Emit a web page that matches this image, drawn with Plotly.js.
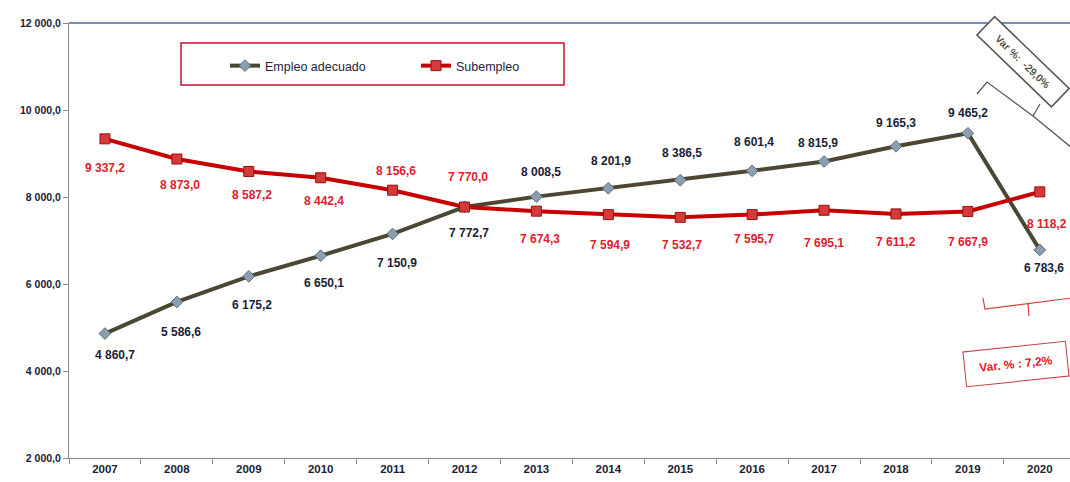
<!DOCTYPE html>
<html>
<head>
<meta charset="utf-8">
<script src="https://cdn.plot.ly/plotly-3.0.1.min.js"></script>
<style>
  html, body { margin: 0; padding: 0; background: #ffffff; }
  #chart { width: 1070px; height: 482px; }
</style>
</head>
<body>
<div id="chart"></div>
<script>
// ---- data ----
const years = ['2007','2008','2009','2010','2011','2012','2013','2014','2015','2016','2017','2018','2019','2020'];
const empleoAdecuado = [4860.7, 5586.6, 6175.2, 6650.1, 7150.9, 7772.7, 8008.5, 8201.9, 8386.5, 8601.4, 8815.9, 9165.3, 9465.2, 6783.6];
const subempleo = [9337.2, 8873.0, 8587.2, 8442.4, 8156.6, 7770.0, 7674.3, 7594.9, 7532.7, 7595.7, 7695.1, 7611.2, 7667.9, 8118.2];
const seriesNames = ['Empleo adecuado', 'Subempleo'];
const varAdecuado = 'Var %:  -29,0%';
const varSubempleo = 'Var. % : 7,2%';

// ---- label offsets (px, positive = below the point) ----
const offAdecuado = [21, 30, 29, 27, 29, 26, -25, -27, -27, -29, -19, -23, -20, 18];
const offSub = [29, 26, 24, 23, -19, -30, 28, 30, 28, 24, 33, 28, 31, 32];
const xoffAdecuado = [10, 4, 3, 3, 4, 4, 5, 3, 2, 2, -6, 0, 0, 4];
const xoffSub = [0, 3, 3, 3, 3, 3, 4, 2, 2, 2, 0, 0, 0, 7];

function fmt(v) {
  const parts = v.toFixed(1).split('.');
  const intPart = parts[0].replace(/\B(?=(\d{3})+(?!\d))/g, ' ');
  return intPart + ',' + parts[1];
}

// plot area geometry for decorative shapes
const L = 69, R = 1070, T = 23, B = 458;
function px(x) { return (x - L) / (R - L); }
function py(y) { return (B - y) / (B - T); }

const labelFont = "'Liberation Sans Narrow', 'Liberation Sans', Arial, sans-serif";

const traces = [
  {
    x: years, y: empleoAdecuado, name: seriesNames[0], type: 'scatter', mode: 'lines+markers',
    line: { color: '#4B4733', width: 4 },
    marker: { symbol: 'diamond', size: 9, color: '#8A9FB0', line: { color: '#5B6B78', width: 1 } }
  },
  {
    x: years, y: subempleo, name: seriesNames[1], type: 'scatter', mode: 'lines+markers',
    line: { color: '#C80000', width: 4 },
    marker: { symbol: 'square', size: 10, color: '#D43A3A', line: { color: '#9A0F0F', width: 1 } }
  }
];

const annotations = [];
years.forEach((yr, i) => {
  // category axis: annotation x given as the category's serial index
  annotations.push({
    x: i, y: empleoAdecuado[i], xref: 'x', yref: 'y', showarrow: false,
    text: '<b>' + fmt(empleoAdecuado[i]) + '</b>',
    yshift: -offAdecuado[i], xshift: xoffAdecuado[i],
    font: { family: labelFont, size: 12, color: '#1A2236' }
  });
  annotations.push({
    x: i, y: subempleo[i], xref: 'x', yref: 'y', showarrow: false,
    text: '<b>' + fmt(subempleo[i]) + '</b>',
    yshift: -offSub[i], xshift: xoffSub[i],
    font: { family: labelFont, size: 12, color: '#E0202E' }
  });
});

annotations.push({
  xref: 'paper', yref: 'paper', x: px(1023), y: py(61), xanchor: 'center', yanchor: 'middle',
  showarrow: false, text: '<b>' + varAdecuado + '</b>', textangle: 44,
  width: 96, height: 18, borderpad: 3, bordercolor: '#55534A', borderwidth: 1.5, bgcolor: '#ffffff',
  font: { family: labelFont, size: 10.5, color: '#55534A' }
});
annotations.push({
  xref: 'paper', yref: 'paper', x: px(1016), y: py(364), xanchor: 'center', yanchor: 'middle',
  showarrow: false, text: '<b>' + varSubempleo + '</b>', textangle: -6,
  width: 96, height: 28, borderpad: 3, bordercolor: '#C83A3A', borderwidth: 1, bgcolor: '#ffffff',
  font: { family: labelFont, size: 12, color: '#E0202E' }
});

const shapes = [
  // top border of plot area
  { type: 'line', xref: 'paper', yref: 'paper', x0: 0, x1: 1, y0: 1, y1: 1, line: { color: '#4A6A9E', width: 1.5 } },
  // legend box
  { type: 'rect', xref: 'paper', yref: 'paper', x0: px(181), x1: px(564), y0: py(43), y1: py(85),
    line: { color: '#C8102E', width: 1.5 }, fillcolor: 'rgba(0,0,0,0)' },
  // dark bracket
  { type: 'path', xref: 'paper', yref: 'paper',
    path: 'M ' + px(977) + ' ' + py(94) + ' L ' + px(987) + ' ' + py(82) + ' L ' + px(1033) + ' ' + py(116) +
          ' L ' + px(1072) + ' ' + py(148) + ' M ' + px(1033) + ' ' + py(116) + ' L ' + px(1040) + ' ' + py(104),
    line: { color: '#55534A', width: 1.2 } },
  // red bracket
  { type: 'path', xref: 'paper', yref: 'paper',
    path: 'M ' + px(983) + ' ' + py(298) + ' L ' + px(985) + ' ' + py(309) + ' L ' + px(1072) + ' ' + py(298) +
          ' M ' + px(1028) + ' ' + py(304) + ' L ' + px(1029) + ' ' + py(316),
    line: { color: '#D04040', width: 1.2 } }
];

const layout = {
  width: 1070, height: 482,
  margin: { l: L, r: 1070 - R, t: T, b: 482 - B, pad: 0 },
  paper_bgcolor: '#ffffff', plot_bgcolor: '#ffffff',
  separators: ', ',
  showlegend: true,
  legend: {
    orientation: 'h', x: px(225), y: py(51), xanchor: 'left', yanchor: 'top',
    bgcolor: 'rgba(0,0,0,0)', borderwidth: 0,
    entrywidth: 146, entrywidthmode: 'pixels',
    font: { family: labelFont, size: 12.5, color: '#1F2440' }
  },
  xaxis: {
    type: 'category', range: [-0.5, 13.42], showgrid: false, zeroline: false,
    showline: true, linecolor: '#8C8C8C', linewidth: 1,
    ticks: 'outside', tickson: 'boundaries', ticklen: 5, tickcolor: '#8C8C8C',
    tickfont: { family: labelFont, size: 11.5, color: '#1A2236', weight: 'bold' },
    fixedrange: true
  },
  yaxis: {
    range: [2000, 12000], tickvals: [2000, 4000, 6000, 8000, 10000, 12000], tickformat: ',.1f',
    showgrid: false, zeroline: false, showline: true, linecolor: '#8C8C8C', linewidth: 1,
    ticks: 'outside', ticklen: 5, tickcolor: '#8C8C8C',
    tickfont: { family: labelFont, size: 10.5, color: '#1A2236', weight: 'bold' },
    fixedrange: true
  },
  annotations: annotations,
  shapes: shapes
};

Plotly.newPlot('chart', traces, layout, { displayModeBar: false, staticPlot: true });
</script>
</body>
</html>
